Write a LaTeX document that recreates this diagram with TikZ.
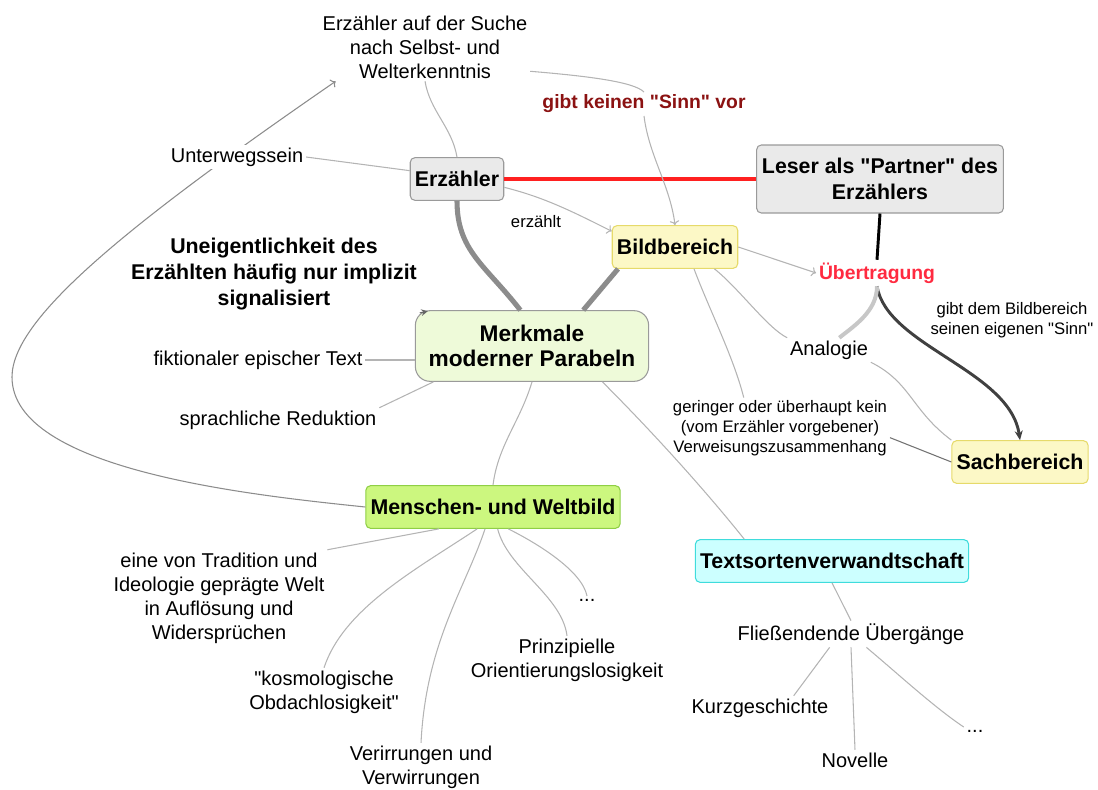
\documentclass[tikz,border=0pt]{standalone}
\usepackage{fontspec}
\setmainfont{Liberation Sans}
\usetikzlibrary{arrows.meta}

\definecolor{boxgrey}{HTML}{EAEAEA}
\definecolor{boxline}{HTML}{9A9A9A}
\definecolor{bildfill}{HTML}{FCF8C6}
\definecolor{bildline}{HTML}{E6DA6A}
\definecolor{merkfill}{HTML}{EEFAD9}
\definecolor{menschfill}{HTML}{CCF77F}
\definecolor{menschline}{HTML}{8FCF45}
\definecolor{tsvfill}{HTML}{CCFFFF}
\definecolor{tsvline}{HTML}{3FDCDC}
\definecolor{linegrey}{HTML}{B4B4B4}
\definecolor{trunkgrey}{HTML}{8C8C8C}
\definecolor{partnerred}{HTML}{FF2020}
\definecolor{uebred}{HTML}{FF2A40}
\definecolor{sinnred}{HTML}{8B1212}

\newcommand{\dq}{\textquotedbl{}}

\begin{document}
\begin{tikzpicture}[x=0.75pt, y=-0.75pt,
  greybox/.style={rectangle, rounded corners=3.5pt, draw=boxline, fill=boxgrey, line width=0.8pt, font=\fontsize{16}{19}\selectfont\bfseries, inner xsep=3.5pt, minimum height=32pt, align=center},
  yellowbox/.style={greybox, draw=bildline, fill=bildfill},
  greenbox/.style={greybox, draw=menschline, fill=menschfill},
  cyanbox/.style={greybox, draw=tsvline, fill=tsvfill},
  mainbox/.style={greybox, fill=merkfill, rounded corners=11pt, font=\fontsize{17}{19}\selectfont\bfseries, inner xsep=10pt, minimum height=53pt},
  txt/.style={inner sep=2pt, align=center, font=\fontsize{15}{18}\selectfont},
  smalltxt/.style={txt, font=\fontsize{12.5}{14.8}\selectfont},
  boldtxt/.style={txt, font=\fontsize{16}{19.5}\selectfont\bfseries},
  redtxt/.style={txt, text=uebred, font=\fontsize{14.5}{17}\selectfont\bfseries},
  twig/.style={draw=linegrey, line width=0.8pt},
  trunk/.style={draw=trunkgrey, line width=3.8pt}]

  \useasboundingbox (0,0) rectangle (1098,789);

  \node[greybox] (erz) at (457,179) {Erzähler};
  \node[greybox, minimum height=51pt, inner xsep=4pt] (leser) at (880,179) {Leser als \dq Partner\dq{} des\\Erzählers};
  \node[yellowbox] (bild) at (675,247) {Bildbereich};
  \node[redtxt] (ueb) at (877,273) {Übertragung};
  \node[smalltxt] (sinngabe) at (1012,320) {gibt dem Bildbereich\\seinen eigenen \dq Sinn\dq};
  \node[txt] (ana) at (829,350) {Analogie};
  \node[yellowbox] (sach) at (1020,462) {Sachbereich};
  \node[smalltxt] (verweis) at (780,428) {geringer oder überhaupt kein\\(vom Erzähler vorgebener)\\Verweisungszusammenhang};
  \node[mainbox] (merk) at (532,346) {Merkmale\\moderner Parabeln};
  \node[boldtxt] (uneig) at (274,274) {Uneigentlichkeit des\\Erzählten häufig nur implizit\\signalisiert};
  \node[txt] (fikt) at (258,360) {fiktionaler epischer Text};
  \node[txt] (sprach) at (278,420) {sprachliche Reduktion};
  \node[txt] (suche) at (425,47) {Erzähler auf der Suche\\nach Selbst- und\\Welterkenntnis};
  \node[redtxt, text=sinnred] (keinsinn) at (644,104) {gibt keinen \dq Sinn\dq{} vor};
  \node[smalltxt] (erzlabel) at (536,222) {erzählt};
  \node[greenbox] (mensch) at (493,507) {Menschen- und Weltbild};
  \node[txt] (trad) at (219,598) {eine von Tradition und\\Ideologie geprägte Welt\\in Auflösung und\\Widersprüchen};
  \node[txt] (kosmo) at (324,692) {\dq kosmologische\\Obdachlosigkeit\dq};
  \node[txt] (verirr) at (421,767) {Verirrungen und\\Verwirrungen};
  \node[txt] (prinz) at (567,660) {Prinzipielle\\Orientierungslosigkeit};
  \node[txt] (mdots) at (587,600) {...};
  \node[cyanbox] (tsv) at (832,561) {Textsortenverwandtschaft};
  \node[txt] (fliess) at (851,634) {Fließendende Übergänge};
  \node[txt] (kurz) at (760,708) {Kurzgeschichte};
  \node[txt] (novelle) at (855,760) {Novelle};
  \node[txt] (tdots) at (975,731) {...};

  % Erzaehler und Leser
  \draw[trunk] (erz.south) .. controls +(0,50) and +(-35,-45) .. (merk.108);
  \draw[trunk] (bild.201) -- (merk.35);
  \draw[draw=partnerred, line width=3pt] (erz.east) -- (leser.west);
  \draw[line width=2.2pt] (leser.south) -- (ueb.north);
  \draw[draw=black!75, line width=2.2pt, -{Stealth[length=7pt, width=6pt, open]}] (ueb.south) .. controls +(10,60) and +(-10,-70) .. (sach.north);
  \draw[draw=black!22, line width=3pt] (ana.50) .. controls +(15,-12) and +(0,25) .. (ueb.south);
  \draw[twig, ->] (bild.east) -- (ueb.west);
  \draw[twig] (bild.-29) .. controls +(25,20) and +(-20,-10) .. (ana.north west);
  \draw[twig] (bild.-49) .. controls +(15,40) and +(-10,-40) .. (verweis.140);
  \draw[twig] (ana.south east) .. controls +(40,20) and +(-40,-30) .. (sach.north west);
  \draw[twig, draw=black!55] (verweis.-5) -- (sach.west);
  \draw[twig, ->] (erz.-10) .. controls +(40,10) and +(-40,-20) .. (bild.166);
  \draw[twig] (suche.-13) .. controls +(60,5) and +(-10,-10) .. (keinsinn.north);
  \draw[twig, ->] (keinsinn.south) .. controls +(5,40) and +(-5,-40) .. (bild.north);
  \draw[twig] (suche.south) .. controls +(5,30) and +(-5,-30) .. (erz.north);

  % Merkmale
  \draw[twig, draw=black!60, -{Stealth[length=5pt, width=5pt]}] (uneig.south east) -- ([shift={(13,1)}]merk.north west);
  \draw[twig] (fikt.east) -- (fikt.east -| merk.west);
  \draw[twig] (sprach.north east) -- (merk.200);
  \draw[twig] (merk.south) .. controls +(-12,40) and +(5,-40) .. (mensch.north);
  \draw[twig] (merk.-27) .. controls +(50,50) and +(-40,-50) .. (tsv.166);
  \draw[twig, ->, draw=black!45] (mensch.west) .. controls (250,495) and (12,470) .. (12,377)
    .. controls (12,320) and (120,230) .. (suche.201);

  % Unterwegssein liegt ueber der Linie
  \node[txt, fill=white] (unt) at (237,157) {Unterwegssein};
  \draw[twig] (unt.east) -- (erz.170);

  % Menschen- und Weltbild
  \draw[twig] (mensch.202) -- (trad.north east);
  \draw[twig] (mensch.234) .. controls +(-60,40) and +(20,-60) .. (kosmo.north);
  \draw[twig] (mensch.250) .. controls +(-20,60) and +(5,-100) .. (verirr.north);
  \draw[twig] (mensch.282) .. controls +(10,40) and +(-5,-40) .. (prinz.north);
  \draw[twig] (mensch.305) .. controls +(30,15) and +(-5,-25) .. (mdots.north);

  % Textsorten
  \draw[twig] (tsv.south) -- (fliess.north);
  \draw[twig] (fliess.212) -- (kurz.20);
  \draw[twig] (fliess.south) -- (novelle.north);
  \draw[twig] (fliess.-41) .. controls +(30,25) and +(-30,-20) .. (tdots.north west);
\end{tikzpicture}
\end{document}
